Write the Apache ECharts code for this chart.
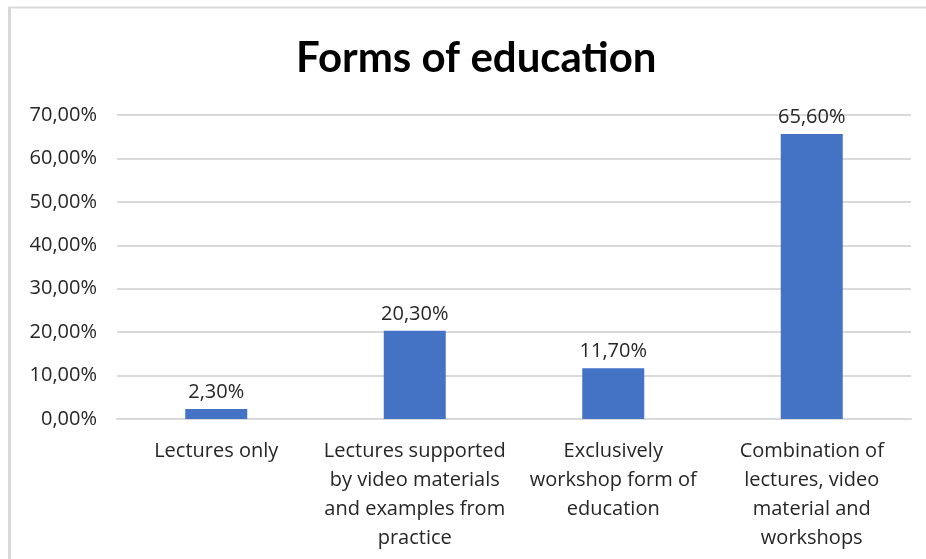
<!DOCTYPE html>
<html>
<head>
<meta charset="utf-8">
<script src="https://cdn.jsdelivr.net/npm/echarts@6/dist/echarts.min.js"></script>
<style>
  html, body { margin: 0; padding: 0; background: #fff; }
  #chart { width: 926px; height: 559px; }
</style>
</head>
<body>
<div id="chart"></div>
<script>
// Survey shares by form of education (percent)
const categories = [
  'Lectures only',
  'Lectures supported\nby video materials\nand examples from\npractice',
  'Exclusively\nworkshop form of\neducation',
  'Combination of\nlectures, video\nmaterial and\nworkshops'
];
const shares = [2.3, 20.3, 11.7, 65.6];
const yTicks = [0, 10, 20, 30, 40, 50, 60, 70];

const pct = v => v.toFixed(2).replace('.', ',') + '%';
const font = '"Open Sans", "Noto Sans", sans-serif';

const chart = echarts.init(document.getElementById('chart'), null, { renderer: 'canvas' });
chart.setOption({
  animation: false,
  backgroundColor: '#ffffff',
  title: {
    text: 'Forms of education',
    left: 291,
    top: 32,
    textStyle: { fontFamily: 'Lato, "Open Sans", sans-serif', fontWeight: 'bold', fontSize: 42, color: '#000' }
  },
  graphic: [
    { type: 'line', shape: { x1: 9.5, y1: 7, x2: 9.5, y2: 559 }, style: { stroke: '#d9d9d9', lineWidth: 3 } },
    { type: 'line', shape: { x1: 9, y1: 7.5, x2: 926, y2: 7.5 }, style: { stroke: '#d9d9d9', lineWidth: 2 } }
  ],
  grid: { left: 117, right: 15, top: 115, bottom: 140, containLabel: false },
  xAxis: {
    type: 'category',
    data: categories,
    axisTick: { show: false },
    axisLine: { show: true, lineStyle: { color: '#d9d9d9', width: 2 } },
    axisLabel: {
      interval: 0,
      margin: 18,
      color: '#262626',
      fontFamily: font,
      fontSize: 20,
      lineHeight: 29,
      align: 'center'
    }
  },
  yAxis: {
    type: 'value',
    min: yTicks[0],
    max: yTicks[yTicks.length - 1],
    interval: 10,
    axisLine: { show: false },
    axisTick: { show: false },
    splitLine: { lineStyle: { color: '#d9d9d9', width: 2 } },
    axisLabel: {
      margin: 20,
      color: '#262626',
      fontFamily: font,
      fontSize: 20,
      formatter: v => pct(v)
    }
  },
  series: [{
    type: 'bar',
    data: shares,
    barWidth: 62,
    itemStyle: { color: '#4472C4' },
    label: {
      show: true,
      position: 'top',
      distance: 7,
      color: '#262626',
      fontFamily: font,
      fontSize: 20,
      formatter: p => pct(p.value)
    }
  }]
});
</script>
</body>
</html>
